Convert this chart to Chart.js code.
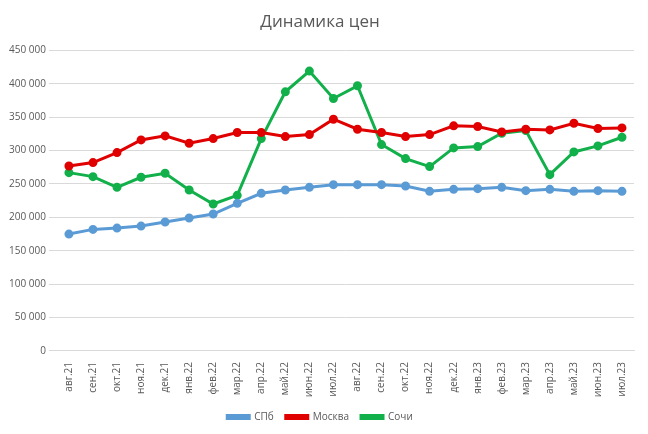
<!DOCTYPE html>
<html>
<head>
<meta charset="utf-8">
<script src="https://cdn.jsdelivr.net/npm/chart.js@4"></script>
<style>
html, body { margin: 0; padding: 0; background: #fff; }
#wrap { width: 648px; height: 434px; }
</style>
</head>
<body>
<div id="wrap"><canvas id="chart"></canvas></div>
<script>
const months = ["авг.21", "сен.21", "окт.21", "ноя.21", "дек.21", "янв.22", "фев.22", "мар.22",
    "апр.22", "май.22", "июн.22", "июл.22", "авг.22", "сен.22", "окт.22", "ноя.22",
    "дек.22", "янв.23", "фев.23", "мар.23", "апр.23", "май.23", "июн.23", "июл.23"];

const spb = [175000, 182000, 184000, 187000, 193000, 199000, 205000, 221000, 236000, 241000, 245000, 249000,
    249000, 249000, 247000, 239000, 242000, 243000, 245000, 240000, 242000, 239000, 240000, 239000];
const moscow = [277000, 282000, 297000, 316000, 322000, 311000, 318000, 327000, 327000, 321000, 324000, 347000,
    332000, 327000, 321000, 324000, 337000, 336000, 328000, 332000, 331000, 341000, 333000, 334000];
const sochi = [267000, 261000, 245000, 260000, 266000, 241000, 220000, 233000, 318000, 388000, 419000, 378000,
    397000, 309000, 288000, 276000, 304000, 306000, 326000, 330000, 264000, 298000, 307000, 320000];

const fmt = v => v.toString().replace(/\B(?=(\d{3})+(?!\d))/g, " ");
const font = "'Open Sans', sans-serif";

function series(label, data, color) {
    return {
        label: label,
        data: data,
        borderColor: color,
        backgroundColor: color,
        borderWidth: 3,
        pointRadius: 3,
        pointHoverRadius: 3,
        tension: 0
    };
}

new Chart(document.getElementById("chart"), {
    type: "line",
    data: {
        labels: months,
        datasets: [
            series("СПб", spb, "#5b9bd5"),
            series("Москва", moscow, "#e00000"),
            series("Сочи", sochi, "#12b04a")
        ]
    },
    options: {
        responsive: true,
        maintainAspectRatio: false,
        animation: false,
        layout: { padding: { left: 6, right: 14, top: 4, bottom: 2 } },
        plugins: {
            title: {
                display: true,
                text: "Динамика цен",
                color: "#595959",
                font: { family: font, size: 17, weight: "normal" },
                padding: { top: 8, bottom: 18 }
            },
            legend: {
                position: "bottom",
                labels: {
                    color: "#595959",
                    font: { family: font, size: 10 },
                    boxWidth: 22,
                    boxHeight: 3,
                    padding: 12
                }
            },
            tooltip: { enabled: false }
        },
        scales: {
            x: {
                offset: true,
                grid: { display: false },
                border: { color: "#d9d9d9" },
                ticks: {
                    color: "#595959",
                    font: { family: font, size: 10 },
                    maxRotation: 90,
                    minRotation: 90,
                    autoSkip: false
                }
            },
            y: {
                min: 0,
                max: 450000,
                grid: { color: "#d9d9d9" },
                border: { display: false },
                ticks: {
                    stepSize: 50000,
                    color: "#595959",
                    font: { family: font, size: 10 },
                    callback: v => fmt(v)
                }
            }
        }
    }
});
</script>
</body>
</html>
